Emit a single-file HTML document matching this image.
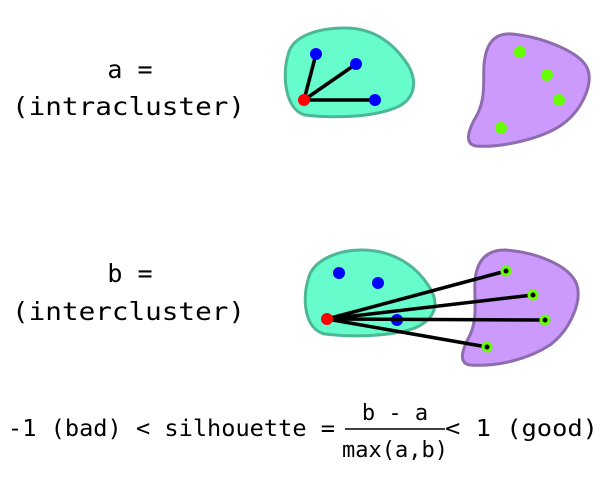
<!DOCTYPE html>
<html><head><meta charset="utf-8"><style>
body{margin:0;background:#fff;}
svg{display:block;}
text{font-family:"DejaVu Sans Mono","Liberation Mono",monospace;fill:#000;}
</style></head><body>
<svg width="600" height="500" viewBox="0 0 600 500">
<text x="130" y="78" font-size="25" text-anchor="middle">a =</text>
<text x="12" y="115" font-size="25" textLength="233" lengthAdjust="spacingAndGlyphs">(intracluster)</text>
<g>
<path d="M 288,55 C 292,35 320,28 345,28 C 375,28 395,45 408,65 C 418,82 415,100 395,108 C 370,118 330,118 305,115 C 285,110 282,75 288,55 Z" fill="#66fccc" stroke="#4cb896" stroke-width="3"/>
<path d="M 484,65 C 486,42 495,33 512,34 C 542,37 582,52 588,70 C 593,86 581,112 560,126 C 540,139 500,148 476,146 C 464,144 468,130 477,115 C 486,98 483,80 484,65 Z" fill="#cc99fc" stroke="#8e6cb0" stroke-width="3"/>
<g stroke="#000" stroke-width="3.5">
<line x1="304" y1="100" x2="316" y2="54"/><line x1="304" y1="100" x2="356" y2="64"/><line x1="304" y1="100" x2="375" y2="100"/>
</g>
<circle cx="316" cy="54" r="6" fill="#0000ff"/><circle cx="356" cy="64" r="6" fill="#0000ff"/><circle cx="375" cy="100" r="6" fill="#0000ff"/>
<circle cx="304" cy="100" r="6" fill="#ff0000"/>
<g fill="#66ff00"><circle cx="520" cy="52" r="6"/><circle cx="547" cy="75" r="6"/><circle cx="559" cy="100" r="6"/><circle cx="501" cy="128" r="6"/></g>
</g>
<text x="130" y="282" font-size="25" text-anchor="middle">b =</text>
<text x="12" y="320" font-size="25" textLength="233" lengthAdjust="spacingAndGlyphs">(intercluster)</text>
<g>
<path d="M 308,280 C 312,260 338,250 362,250 C 392,250 415,265 428,285 C 440,302 437,318 415,328 C 390,337 350,337 325,334 C 305,330 302,300 308,280 Z" fill="#66fccc" stroke="#4cb896" stroke-width="3"/>
<path d="M 475,280 C 477,260 487,250 505,250 C 535,252 570,265 577,285 C 582,302 570,330 550,345 C 530,358 500,367 470,365 C 458,363 462,350 470,335 C 478,318 474,298 475,280 Z" fill="#cc99fc" stroke="#8e6cb0" stroke-width="3"/>
<circle cx="339" cy="273" r="6" fill="#0000ff"/><circle cx="378" cy="283" r="6" fill="#0000ff"/><circle cx="397" cy="320" r="6" fill="#0000ff"/>
<g stroke="#000" stroke-width="3.5">
<line x1="327" y1="319" x2="506" y2="271"/><line x1="327" y1="319" x2="533" y2="295"/><line x1="327" y1="319" x2="545" y2="320"/><line x1="327" y1="319" x2="487" y2="347"/>
</g>
<circle cx="327" cy="319" r="6" fill="#ff0000"/>
<g fill="#66ff00"><circle cx="506" cy="271" r="5.5"/><circle cx="533" cy="295" r="5.5"/><circle cx="545" cy="320" r="5.5"/><circle cx="487" cy="347" r="5.5"/></g>
<g fill="#000"><circle cx="506" cy="271" r="2.5"/><circle cx="533" cy="295" r="2.5"/><circle cx="545" cy="320" r="2.5"/><circle cx="487" cy="347" r="2.5"/></g>
</g>
<g>
<text x="8" y="436" font-size="23" textLength="327" lengthAdjust="spacingAndGlyphs">-1 (bad) &lt; silhouette =</text>
<text x="395" y="420" font-size="22" text-anchor="middle">b - a</text>
<line x1="345" y1="429" x2="445" y2="429" stroke="#000" stroke-width="1.5"/>
<text x="395" y="457" font-size="22" text-anchor="middle">max(a,b)</text>
<text x="445" y="436" font-size="23" textLength="153" lengthAdjust="spacingAndGlyphs">&lt; 1 (good)</text>
</g>
</svg>
</body></html>
